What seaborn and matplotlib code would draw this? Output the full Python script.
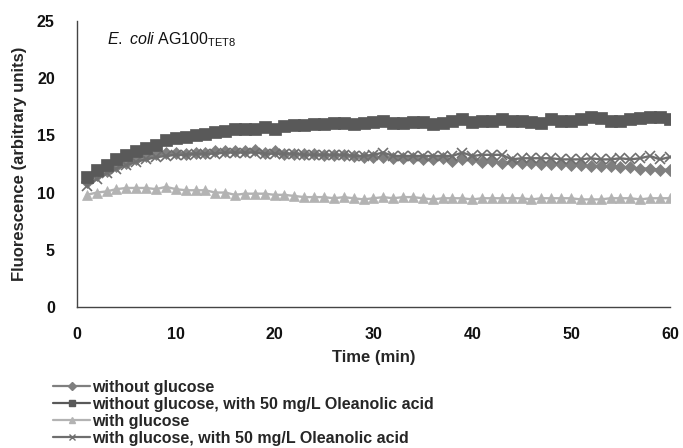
import numpy as np
import pandas as pd
import matplotlib
matplotlib.use("Agg")
import matplotlib.pyplot as plt
from matplotlib.lines import Line2D
import seaborn as sns

time = list(range(1, 61))

without_glucose = [10.9, 11.5, 11.9, 12.3, 12.6, 12.9, 13.2, 13.4, 13.5, 13.5,
                   13.4, 13.5, 13.5, 13.6, 13.6, 13.6, 13.6, 13.7, 13.5, 13.6,
                   13.4, 13.4, 13.4, 13.4, 13.3, 13.3, 13.3, 13.2, 13.1, 13.1,
                   13.1, 13.0, 13.0, 13.0, 12.9, 12.9, 13.0, 12.8, 12.9, 12.9,
                   12.7, 12.8, 12.6, 12.7, 12.6, 12.6, 12.5, 12.5, 12.5, 12.4,
                   12.4, 12.3, 12.3, 12.3, 12.2, 12.2, 12.1, 12.1, 12.0, 12.0]

without_glucose_oa = [11.4, 12.0, 12.4, 12.9, 13.3, 13.6, 13.9, 14.2, 14.6, 14.8,
                      14.9, 15.0, 15.1, 15.3, 15.4, 15.6, 15.6, 15.6, 15.7, 15.6,
                      15.8, 15.9, 15.9, 16.0, 16.0, 16.1, 16.1, 16.0, 16.1, 16.2,
                      16.3, 16.1, 16.1, 16.2, 16.2, 16.0, 16.1, 16.3, 16.4, 16.2,
                      16.3, 16.3, 16.4, 16.3, 16.3, 16.2, 16.1, 16.4, 16.3, 16.3,
                      16.4, 16.6, 16.5, 16.3, 16.3, 16.4, 16.5, 16.6, 16.6, 16.4]

with_glucose = [9.8, 10.0, 10.1, 10.3, 10.4, 10.4, 10.4, 10.3, 10.5, 10.3,
                10.2, 10.2, 10.2, 10.0, 10.0, 9.8, 9.9, 9.9, 9.9, 9.8,
                9.8, 9.7, 9.6, 9.6, 9.6, 9.5, 9.6, 9.5, 9.4, 9.5,
                9.6, 9.5, 9.6, 9.6, 9.5, 9.4, 9.5, 9.5, 9.5, 9.4,
                9.5, 9.5, 9.5, 9.5, 9.5, 9.4, 9.5, 9.5, 9.5, 9.5,
                9.4, 9.4, 9.4, 9.5, 9.5, 9.5, 9.4, 9.5, 9.5, 9.5]

with_glucose_oa = [10.6, 11.2, 11.7, 12.1, 12.4, 12.7, 12.9, 13.1, 13.2, 13.3,
                   13.3, 13.4, 13.4, 13.4, 13.5, 13.5, 13.5, 13.5, 13.4, 13.4,
                   13.4, 13.4, 13.3, 13.3, 13.3, 13.3, 13.3, 13.2, 13.2, 13.3,
                   13.5, 13.2, 13.2, 13.2, 13.2, 13.2, 13.2, 13.2, 13.5, 13.2,
                   13.3, 13.3, 13.3, 12.9, 13.0, 13.0, 13.0, 13.0, 12.9, 12.9,
                   12.9, 13.0, 12.9, 12.9, 13.0, 12.9, 13.0, 13.2, 12.9, 13.1]

labels = ["without glucose",
          "without glucose, with 50 mg/L Oleanolic acid",
          "with glucose",
          "with glucose, with 50 mg/L Oleanolic acid"]
series = [without_glucose, without_glucose_oa, with_glucose, with_glucose_oa]

colors = {labels[0]: "#7f7f7f", labels[1]: "#595959",
          labels[2]: "#b3b3b3", labels[3]: "#6e6e6e"}
markers = {labels[0]: "D", labels[1]: "s", labels[2]: "^", labels[3]: "x"}
msizes = {labels[0]: 6, labels[1]: 8, labels[2]: 7, labels[3]: 7}

df = pd.concat([pd.DataFrame({"time": time, "value": s, "cond": lab})
                for lab, s in zip(labels, series)], ignore_index=True)

sns.set_style("white")
plt.rcParams["font.family"] = ["Liberation Sans", "DejaVu Sans"]
plt.rcParams["mathtext.fontset"] = "custom"
plt.rcParams["mathtext.rm"] = "Liberation Sans"
plt.rcParams["mathtext.it"] = "Liberation Sans:italic"

fig = plt.figure(figsize=(6.83, 4.48), dpi=100)
ax = fig.add_axes([0.1127, 0.315, 0.868, 0.638])

draw_order = [labels[2], labels[0], labels[3], labels[1]]
for lab in draw_order:
    sub = df[df["cond"] == lab]
    sns.lineplot(data=sub, x="time", y="value", ax=ax, color=colors[lab],
                 marker=markers[lab], markersize=msizes[lab],
                 markeredgecolor=colors[lab],
                 markeredgewidth=1.2 if markers[lab] == "x" else 0.5,
                 linewidth=1.7, legend=False)

ax.set_xlim(0, 60)
ax.set_ylim(0, 25)
ax.set_xticks([0, 10, 20, 30, 40, 50, 60])
ax.set_yticks([0, 5, 10, 15, 20, 25])
ax.tick_params(axis="both", labelsize=11.5, colors="#333333", labelcolor="#111111", width=1)
for t in ax.get_xticklabels() + ax.get_yticklabels():
    t.set_fontweight("bold")
ax.tick_params(axis="x", direction="inout", length=5, pad=12)
ax.tick_params(axis="y", direction="out", length=5, pad=11)
for sp in ["top", "right"]:
    ax.spines[sp].set_visible(False)
for sp in ["left", "bottom"]:
    ax.spines[sp].set_color("#444444")
    ax.spines[sp].set_linewidth(1)
ax.set_xlabel("Time (min)", fontsize=12, fontweight="bold", labelpad=6)
ax.set_ylabel("Fluorescence (arbitrary units)", fontsize=12, fontweight="bold", labelpad=7)

ax.text(0.05, 0.935, r"$\it{E.}$ $\it{coli}$ AG100$_{\rm TET8}$", transform=ax.transAxes,
        fontsize=11.5, ha="left", va="center", color="#111111")

handles = [Line2D([0], [0], color=colors[l], marker=markers[l],
                  markersize=4.5, markeredgewidth=1, linewidth=1.6) for l in labels]
leg = fig.legend(handles, labels, loc="upper left", bbox_to_anchor=(0.078, 0.152),
                 frameon=False, prop={"size": 11.5, "weight": "bold"},
                 handlelength=2.3, handletextpad=0.15,
                 labelspacing=0.12, borderpad=0, borderaxespad=0)

fig.savefig("out.png", dpi=100)
